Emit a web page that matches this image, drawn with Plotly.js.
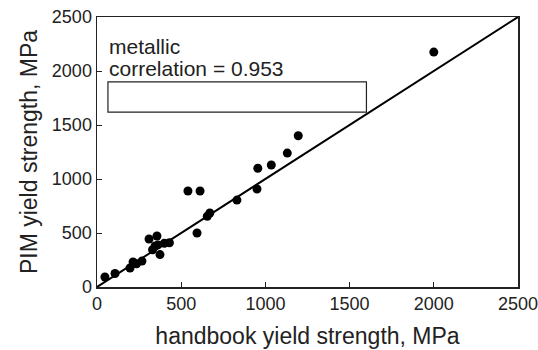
<!DOCTYPE html>
<html>
<head>
<meta charset="utf-8">
<script src="https://cdn.plot.ly/plotly-3.0.1.min.js"></script>
<style>html,body{margin:0;padding:0;background:#fff;}#chart{width:538px;height:350px;}</style>
</head>
<body>
<div id="chart"></div>
<script>
var handbookYield = [47, 107, 196, 214, 235, 267, 309, 330, 345, 356, 362, 374, 400, 430, 540, 612, 594, 655, 670, 831, 950, 955, 1035, 1130, 1195, 2000];
var pimYield      = [93, 125, 176, 231, 215, 240, 444, 345, 380, 472, 390, 300, 405, 410, 889, 889, 500, 655, 685, 805, 907, 1100, 1130, 1240, 1400, 2175];
var diagX = [0, 2500];
var diagY = [0, 2500];
var tickVals = [0, 500, 1000, 1500, 2000, 2500];
var tickText = ["0", "500", "1000", "1500", "2000", "2500"];
var noteLines = ["metallic", "correlation = 0.953"];
var boxCorners = {x0: 65, x1: 1600, y0: 1620, y1: 1900};

var font = "Liberation Sans, Arial, Helvetica, sans-serif";

var traces = [
  {x: diagX, y: diagY, mode: "lines", line: {color: "#000", width: 2}, hoverinfo: "skip"},
  {x: handbookYield, y: pimYield, mode: "markers", marker: {color: "#000", size: 9}}
];

var axisCommon = {
  range: [0, 2500], tickvals: tickVals, ticktext: tickText,
  ticks: "inside", ticklen: 5, tickwidth: 1, tickcolor: "#222",
  showline: true, linecolor: "#222", linewidth: 1.5, mirror: true,
  showgrid: false, zeroline: false, automargin: false,
  ticklabeloverflow: "allow",
  tickfont: {family: font, size: 18, color: "#222"}
};

var layout = {
  width: 538, height: 350,
  margin: {l: 97, r: 20, t: 17, b: 63},
  paper_bgcolor: "#fff", plot_bgcolor: "#fff",
  showlegend: false,
  xaxis: Object.assign({}, axisCommon, {
    title: {text: "handbook yield strength, MPa", font: {family: font, size: 23, color: "#222"}, standoff: 15}
  }),
  yaxis: Object.assign({}, axisCommon, {
    title: {text: "PIM yield strength, MPa", font: {family: font, size: 23, color: "#222"}, standoff: 8}
  }),
  shapes: [{type: "rect", xref: "x", yref: "y", x0: boxCorners.x0, x1: boxCorners.x1, y0: boxCorners.y0, y1: boxCorners.y1,
            line: {color: "#222", width: 1.2}, fillcolor: "rgba(0,0,0,0)"}],
  annotations: [
    {x: 60, y: 2230, xref: "x", yref: "y", xanchor: "left", yanchor: "middle", showarrow: false,
     text: noteLines[0], font: {family: font, size: 21, color: "#222"}},
    {x: 60, y: 2020, xref: "x", yref: "y", xanchor: "left", yanchor: "middle", showarrow: false,
     text: noteLines[1], font: {family: font, size: 21, color: "#222"}}
  ]
};

Plotly.newPlot("chart", traces, layout, {displayModeBar: false, staticPlot: true});
</script>
</body>
</html>
